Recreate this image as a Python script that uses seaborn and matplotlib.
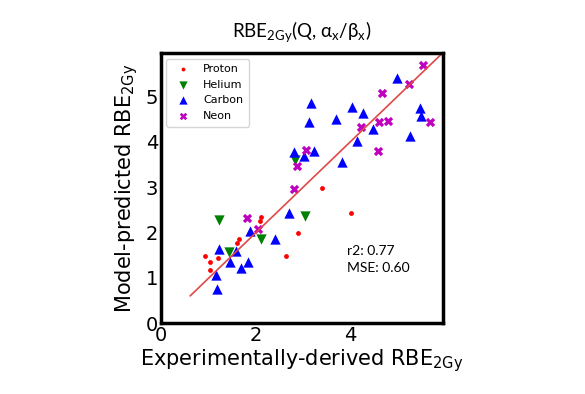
import pandas as pd
import matplotlib
matplotlib.use('Agg')
import matplotlib.pyplot as plt
import seaborn as sns
import numpy as np

# 数据: 实验值 vs 模型预测值
proton_x = [0.93, 1.04, 1.20, 1.04, 1.62, 1.65, 2.10, 2.13, 2.90, 2.65, 3.41, 4.02]
proton_y = [1.49, 1.35, 1.43, 1.18, 1.76, 1.85, 2.26, 2.35, 2.00, 1.49, 2.98, 2.43]

helium_x = [1.23, 1.45, 2.13, 3.05, 2.85]
helium_y = [2.28, 1.57, 1.85, 2.37, 3.60]

carbon_x = [1.23, 1.16, 1.18, 1.46, 1.59, 1.69, 1.84, 1.89, 2.42, 2.71, 2.82, 3.02, 3.24,
            3.14, 3.18, 3.70, 3.83, 4.04, 4.28, 4.16, 4.50, 5.00, 5.28, 5.48, 5.51]
carbon_y = [1.64, 1.06, 0.75, 1.34, 1.60, 1.21, 1.35, 2.04, 1.85, 2.43, 3.77, 3.69, 3.80,
            4.43, 4.87, 4.51, 3.55, 4.78, 4.65, 4.01, 4.28, 5.42, 4.13, 4.76, 4.57]

neon_x = [1.83, 2.05, 2.81, 2.88, 3.07, 4.23, 4.61, 4.81, 4.60, 4.68, 5.25, 5.55, 5.69]
neon_y = [2.32, 2.08, 2.96, 3.46, 3.82, 4.32, 4.44, 4.46, 3.81, 5.07, 5.28, 5.70, 4.44]

fit_x = [0.62, 5.95]
fit_y = [0.60, 5.95]

ion_labels = ['Proton', 'Helium', 'Carbon', 'Neon']
colors = ['red', 'green', 'blue', 'm']
markers = ['o', 'v', '^', 'X']
sizes = [12, 55, 55, 45]

sns.set_style('white')
plt.rcParams['font.family'] = ['DejaVu Sans']
plt.rcParams['text.color'] = 'black'
plt.rcParams['axes.labelcolor'] = 'black'
plt.rcParams['xtick.labelcolor'] = 'black'
plt.rcParams['ytick.labelcolor'] = 'black'

fig = plt.figure(figsize=(5.85, 3.94), dpi=100)
ax = fig.add_axes([0.275, 0.180, 0.482, 0.685])

groups = [(proton_x, proton_y), (helium_x, helium_y), (carbon_x, carbon_y), (neon_x, neon_y)]
for i, (gx, gy) in enumerate(groups):
    df = pd.DataFrame({'exp': gx, 'pred': gy})
    sns.scatterplot(data=df, x='exp', y='pred', color=colors[i], marker=markers[i],
                    s=sizes[i], linewidth=0, label=ion_labels[i], ax=ax)

ax.plot(fit_x, fit_y, color='#e04848', linewidth=1.2)

ax.set_xlim(0, 5.97)
ax.set_ylim(0, 5.96)
ax.set_xticks([0, 2, 4])
ax.set_yticks([0, 1, 2, 3, 4, 5])
ax.tick_params(direction='in', length=13, width=1, color='#707070', labelsize=14, pad=2)
for sp in ax.spines.values():
    sp.set_linewidth(2.5)
    sp.set_color('black')

ax.set_xlabel('Experimentally-derived RBE$_{\\mathregular{2Gy}}$', fontsize=15, labelpad=2)
ax.set_ylabel('Model-predicted RBE$_{\\mathregular{2Gy}}$', fontsize=15, labelpad=4)
ax.set_title('RBE$_{\\mathregular{2Gy}}$(Q, α$_{\\mathregular{x}}$/β$_{\\mathregular{x}}$)',
             fontsize=13.5, family=['Lato', 'DejaVu Sans'], pad=11)

ax.text(3.94, 1.12, 'r2: 0.77\nMSE: 0.60', fontsize=10, family=['Lato', 'DejaVu Sans'],
        linespacing=1.5)

ax.legend(loc='upper left', fontsize=8, frameon=True, borderpad=0.5, handletextpad=0.8,
          markerscale=0.8)

fig.savefig('out.png', dpi=100)
